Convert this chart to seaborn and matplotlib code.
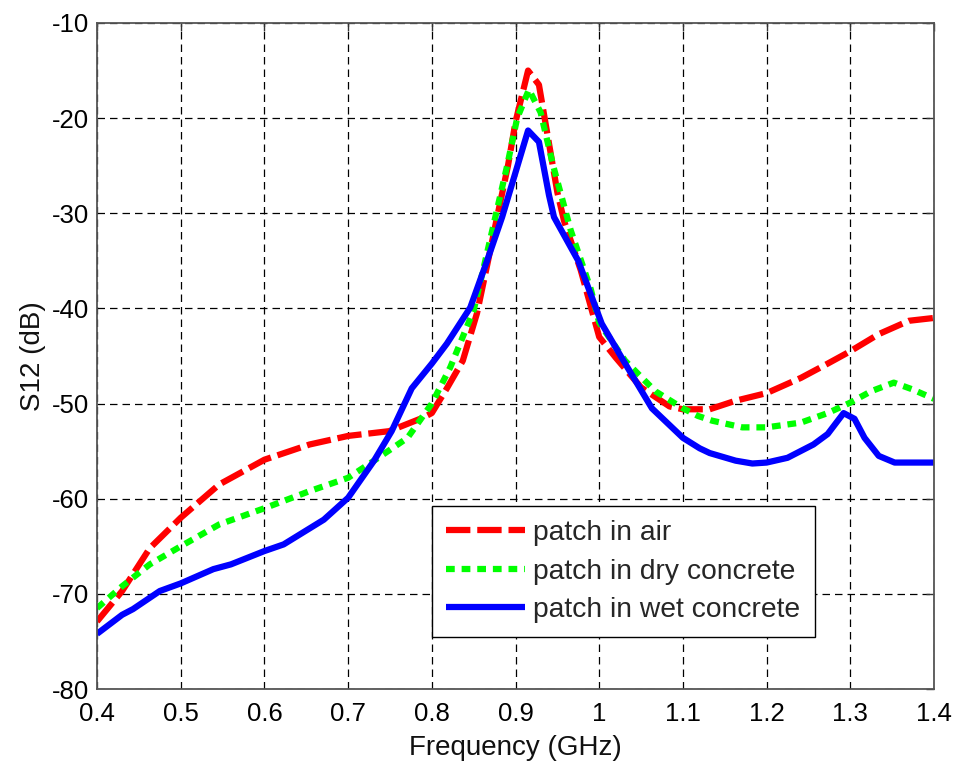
import numpy as np
import pandas as pd
import matplotlib
matplotlib.use("Agg")
import matplotlib.pyplot as plt
import seaborn as sns

# ---- data ----
air_f = [0.40, 0.43, 0.463, 0.50, 0.546, 0.60, 0.654, 0.70, 0.749, 0.789, 0.80, 0.818,
         0.837, 0.854, 0.866, 0.879, 0.891, 0.90, 0.915, 0.928, 0.95, 0.958, 0.978,
         1.00, 1.02, 1.05, 1.084, 1.10, 1.132, 1.163, 1.20, 1.241, 1.273, 1.30, 1.334,
         1.37, 1.40]
air_db = [-72.9, -69.7, -65.2, -62.0, -58.5, -55.9, -54.3, -53.4, -52.9, -51.5, -51.0, -48.4,
          -45.5, -40.5, -35.5, -30.0, -25.0, -20.4, -15.0, -16.5, -27.8, -30.8, -36.0,
          -43.0, -45.2, -48.3, -50.3, -50.6, -50.6, -49.7, -48.9, -47.3, -45.8, -44.5, -42.7,
          -41.3, -41.0]

dry_f = [0.40, 0.43, 0.463, 0.50, 0.546, 0.60, 0.654, 0.70, 0.731, 0.771, 0.80, 0.822,
         0.85, 0.862, 0.873, 0.89, 0.902, 0.916, 0.93, 0.945, 0.966, 0.99, 1.00, 1.031,
         1.067, 1.10, 1.118, 1.135, 1.171, 1.20, 1.241, 1.273, 1.30, 1.325, 1.352, 1.374, 1.40]
dry_db = [-71.5, -69.2, -66.9, -65.0, -62.7, -61.0, -59.2, -57.8, -56.0, -53.6, -50.0, -46.2,
          -40.2, -35.7, -31.5, -25.0, -20.0, -17.0, -19.4, -25.0, -31.8, -38.0, -41.5, -45.5,
          -48.7, -50.5, -51.3, -51.8, -52.5, -52.5, -52.0, -51.0, -49.9, -48.7, -47.8, -48.5, -49.5]

wet_f = [0.40, 0.43, 0.443, 0.475, 0.50, 0.539, 0.56, 0.60, 0.623, 0.671, 0.70, 0.731,
         0.752, 0.776, 0.80, 0.818, 0.846, 0.866, 0.884, 0.899, 0.915, 0.928, 0.94, 0.946,
         0.975, 1.003, 1.027, 1.063, 1.10, 1.12, 1.132, 1.163, 1.183, 1.20, 1.225, 1.256,
         1.273, 1.292, 1.305, 1.317, 1.334, 1.353, 1.40]
wet_db = [-74.2, -72.2, -71.6, -69.7, -68.9, -67.4, -66.9, -65.5, -64.8, -62.2, -59.9, -56.0,
          -52.9, -48.4, -45.8, -43.7, -39.9, -35.0, -30.4, -26.0, -21.3, -22.5, -28.1, -30.4,
          -35.0, -41.6, -45.2, -50.5, -53.6, -54.7, -55.2, -56.0, -56.3, -56.2, -55.7, -54.3,
          -53.2, -51.0, -51.6, -53.6, -55.5, -56.2, -56.2]

labels = ["patch in air", "patch in dry concrete", "patch in wet concrete"]
colors = ["#ff0000", "#00ff00", "#0000ff"]
xticks = [0.4, 0.5, 0.6, 0.7, 0.8, 0.9, 1.0, 1.1, 1.2, 1.3, 1.4]
xticklabels = ["0.4", "0.5", "0.6", "0.7", "0.8", "0.9", "1", "1.1", "1.2", "1.3", "1.4"]
yticks = [-80, -70, -60, -50, -40, -30, -20, -10]

# ---- styling ----
sns.set_theme(style="white")
plt.rcParams['font.family'] = ['Liberation Sans', 'DejaVu Sans']
plt.rcParams['axes.unicode_minus'] = False

fig = plt.figure(figsize=(9.55, 7.66), dpi=100)
ax = fig.add_axes([0.1016, 0.1005, 0.8764, 0.8695])

series = [(air_f, air_db), (dry_f, dry_db), (wet_f, wet_db)]
dashes = [(3.9, 1.1), (1.4, 1.1), None]
lw = 4.5
for (f, d), lab, c, ds in zip(series, labels, colors, dashes):
    df = pd.DataFrame({"Frequency": f, "S12": d})
    sns.lineplot(data=df, x="Frequency", y="S12", ax=ax, color=c, linewidth=lw,
                 label=lab, estimator=None, sort=False)
    line = ax.lines[-1]
    line.set_solid_capstyle("butt")
    line.set_dash_capstyle("butt")
    line.set_solid_joinstyle("round")
    if ds is not None:
        line.set_dashes(ds)

ax.set_xlim(0.4, 1.4)
ax.set_ylim(-80, -10)
ax.set_xticks(xticks)
ax.set_xticklabels(xticklabels)
ax.set_yticks(yticks)
ax.tick_params(axis="both", which="major", direction="in", length=6, width=1,
               top=True, right=True, labelsize=18.5, color="#333333",
               labelcolor="black")
ax.tick_params(axis="x", pad=9)
ax.tick_params(axis="y", pad=6)
ax.grid(True, color="black", linestyle=(0, (6, 4)), linewidth=0.9)
ax.set_axisbelow(True)
for sp in ax.spines.values():
    sp.set_color("#555555")
    sp.set_linewidth(1.3)

ax.set_xlabel("Frequency (GHz)", fontsize=20, color="#111111", labelpad=7)
ax.set_ylabel("S12 (dB)", fontsize=20, color="#111111", labelpad=4)

leg = ax.legend(loc="upper left", bbox_to_anchor=(0.40, 0.275), borderaxespad=0,
                fontsize=20.3, frameon=True, fancybox=False, framealpha=1,
                edgecolor="black", handlelength=2.8, handletextpad=0.3,
                labelspacing=0.45, borderpad=0.5)
leg.get_frame().set_linewidth(1.0)
for h, ds in zip(leg.get_lines(), dashes):
    h.set_linewidth(lw)
    h.set_dash_capstyle("butt")
    h.set_solid_capstyle("butt")
    if ds is not None:
        h.set_dashes(ds)

fig.savefig("out.png", dpi=100, facecolor="white")
